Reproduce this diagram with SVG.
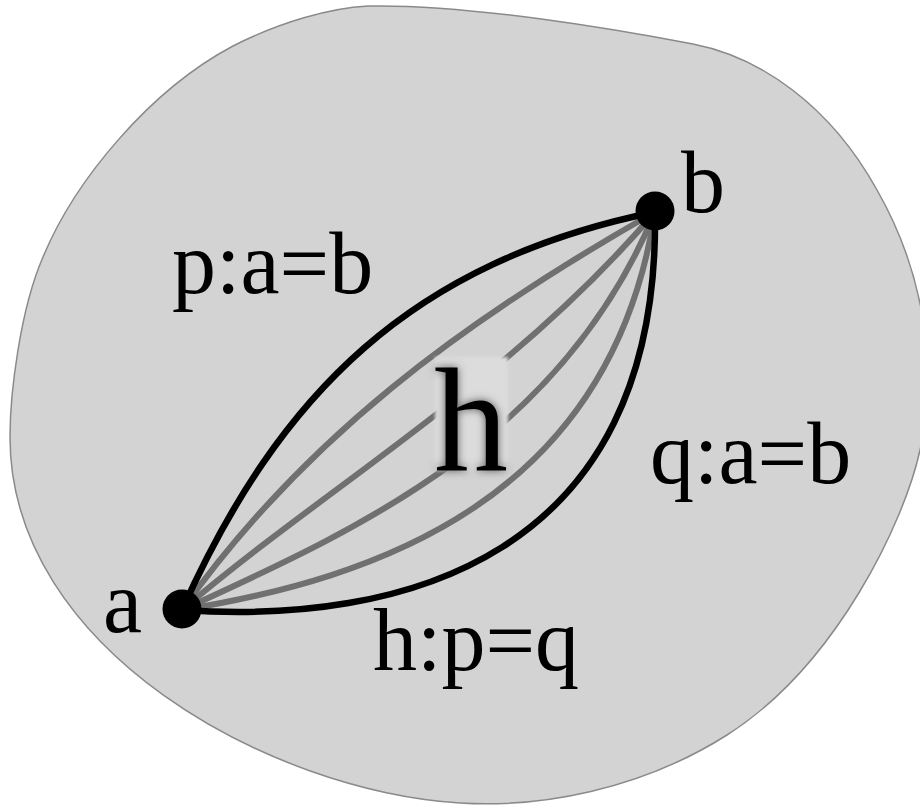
<svg xmlns="http://www.w3.org/2000/svg" width="920" height="806" viewBox="0 0 920 806">
<defs>
<style>
.lbl{font-family:"Liberation Serif",serif;font-size:88px;fill:#000}
.outer{fill:none;stroke:#000;stroke-width:6.5;stroke-linecap:round}
.inner{fill:none;stroke:#707070;stroke-width:6;stroke-linecap:round}
.dot{fill:#000}
</style>
<filter id="blur" x="-30%" y="-30%" width="160%" height="160%"><feGaussianBlur stdDeviation="4"/></filter>
<filter id="soft" x="-10%" y="-10%" width="120%" height="120%"><feGaussianBlur stdDeviation="1.5"/></filter>
</defs>
<rect width="920" height="806" fill="#fff"/>
<g id="space">
<path d="M368,6 C470,4 620,30 693,44 C760,57 830,105 877,190 C920,265 940,360 920,450 C905,520 837,665 727,735 C640,790 540,808 460,803 C270,791 10,650 10,437 C10,394 20,310 43,257 C75,180 150,90 233,46 C280,22 330,8 368,6 Z" fill="#d3d3d3" stroke="#8a8a8a" stroke-width="1.5"/>
</g>
<g id="connectors">
<path class="inner" d="M182,610 C304,438.6 461.6,321.6 655,212"/>
<path class="inner" d="M182,610 C328,485.2 511.2,381.2 655,212"/>
<path class="inner" d="M182,610 C352,531.8 560.8,440.8 655,212"/>
<path class="inner" d="M182,610 C376,578.4 610.4,500.4 655,212"/>
<path id="p" class="outer" d="M182,610 C280,392 412,262 655,212"/>
<path id="q" class="outer" d="M182,610 C400,625 660,560 655,212"/>
</g>
<g id="h-label">
<rect x="435" y="357" width="73" height="114" fill="#dcdcdc" filter="url(#soft)"/>
<text x="471" y="471" text-anchor="middle" font-family="Liberation Serif, serif" font-size="148" fill="#555" filter="url(#blur)">h</text>
<text x="471" y="471" text-anchor="middle" font-family="Liberation Serif, serif" font-size="148" fill="#000">h</text>
</g>
<g id="node-a">
<circle class="dot" cx="182" cy="609" r="19.5"/>
<text class="lbl" x="103" y="632">a</text>
</g>
<g id="node-b">
<circle class="dot" cx="655" cy="211" r="19.5"/>
<text class="lbl" x="681" y="212">b</text>
</g>
<g id="labels">
<text class="lbl" x="172" y="293">p:a=b</text>
<text class="lbl" x="650" y="483">q:a=b</text>
<text class="lbl" x="373" y="670">h:p=q</text>
</g>
</svg>
